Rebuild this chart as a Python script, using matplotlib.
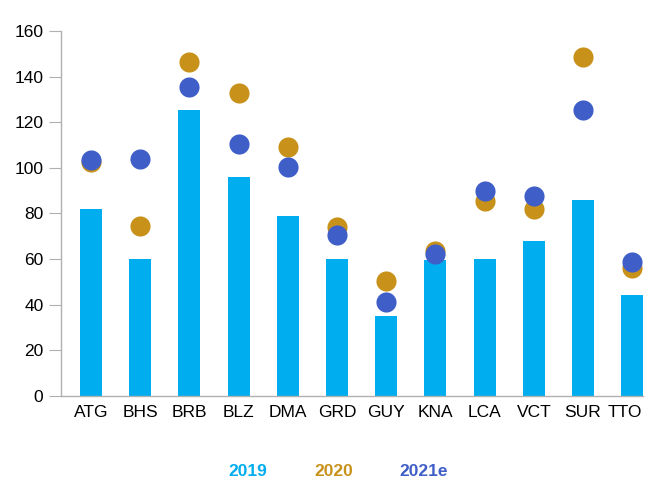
import numpy as np
import matplotlib.pyplot as plt
import matplotlib.transforms as mtransforms

plt.rcParams['font.family'] = ['Liberation Sans', 'DejaVu Sans']

# country codes and values per year
countries = ["ATG", "BHS", "BRB", "BLZ", "DMA", "GRD", "GUY", "KNA", "LCA", "VCT", "SUR", "TTO"]
y2019 = [82, 60, 125.5, 96, 79, 60, 35, 59.5, 60, 68, 86, 44]
y2020 = [102.5, 74.5, 146.5, 133, 109, 74, 50.5, 63.5, 85.5, 82, 148.5, 56]
y2021e = [103.5, 104, 135.5, 110.5, 100.5, 70.5, 41, 62, 90, 87.5, 125.5, 58.5]

c19 = "#00AEEF"
c20 = "#C8921A"
c21 = "#405EC8"

fig = plt.figure(figsize=(6.46, 4.79), dpi=100)
ax = fig.add_axes([0.0944, 0.174, 0.901, 0.761])

x = np.arange(len(countries))
ax.bar(x, y2019, width=0.45, color=c19, zorder=2)
ax.scatter(x, y2020, s=210, color=c20, zorder=3, linewidths=0)
ax.scatter(x, y2021e, s=210, color=c21, zorder=4, linewidths=0)

ax.set_xlim(-0.61, 11.22)
ax.set_ylim(0, 160)
ax.set_yticks(range(0, 161, 20))
ax.set_xticks(x)
ax.set_xticklabels(countries)

for s in ["top", "right"]:
    ax.spines[s].set_visible(False)
for s in ["left", "bottom"]:
    ax.spines[s].set_color("#b0b0b0")
    ax.spines[s].set_linewidth(1)
ax.tick_params(axis="y", length=8.6, color="#b0b0b0", labelsize=12.5, pad=4)
ax.tick_params(axis="x", length=0, labelsize=12.5, pad=7)

# keep the last label inside the figure edge
last = ax.get_xticklabels()[-1]
last.set_transform(last.get_transform() + mtransforms.ScaledTranslation(-5 / 72, 0, fig.dpi_scale_trans))

# colored-text legend below the chart
fig.text(0.383, 0.006, "2019", color=c19, fontsize=12.5, fontweight="bold", ha="center", va="baseline")
fig.text(0.516, 0.006, "2020", color=c20, fontsize=12.5, fontweight="bold", ha="center", va="baseline")
fig.text(0.655, 0.006, "2021e", color=c21, fontsize=12.5, fontweight="bold", ha="center", va="baseline")

fig.savefig("out.png", dpi=100)
